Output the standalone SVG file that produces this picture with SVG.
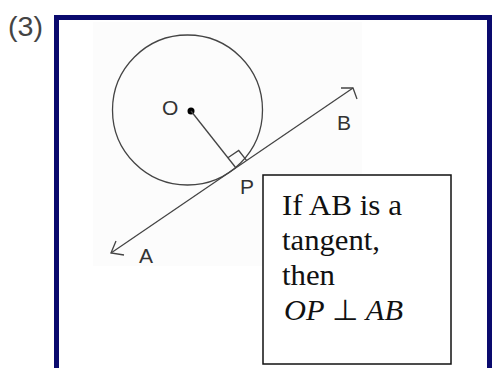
<svg xmlns="http://www.w3.org/2000/svg" width="493" height="368" viewBox="0 0 493 368">
<style>
.lbl{font-family:"Liberation Sans",Arial,sans-serif;font-size:21px;fill:#333}
.box{font-family:"Liberation Serif","Times New Roman",serif;font-size:29px;fill:#111}
.ln{stroke:#444;stroke-width:1.3;fill:none}
</style>
<rect x="0" y="0" width="493" height="368" fill="#fff"/>
<text x="8" y="36" font-family="Liberation Sans,Arial,sans-serif" font-size="27" fill="#444" textLength="35" lengthAdjust="spacingAndGlyphs">(3)</text>
<rect id="frame" x="56.5" y="17.5" width="433" height="400" fill="#fff" stroke="#0a0a6e" stroke-width="5"/>
<rect x="93" y="22" width="269" height="244" fill="#fcfcfc"/>
<g id="circle">
<circle cx="187.5" cy="110" r="75" class="ln"/>
<circle cx="191" cy="111" r="3.5" fill="#000"/>
<text x="162" y="115" class="lbl">O</text>
</g>
<g id="connectors">
<line x1="111" y1="253" x2="353" y2="88" class="ln"/>
<polyline points="341,88 353,88 357,99" class="ln"/>
<polyline points="124,255 111,253 116,241" class="ln"/>
<line x1="191" y1="111" x2="236" y2="168" class="ln"/>
<polyline points="227.9,157.8 238.7,150.5 246.7,160.7" class="ln"/>
</g>
<g id="labels">
<text x="337" y="130" class="lbl">B</text>
<text x="240" y="194" class="lbl">P</text>
<text x="139" y="263" class="lbl">A</text>
</g>
<g id="note">
<rect x="263" y="175" width="188" height="189" fill="#fff" stroke="#111" stroke-width="1.5"/>
<text x="282" y="215" class="box" textLength="120" lengthAdjust="spacingAndGlyphs">If AB is a</text>
<text x="282" y="250" class="box" textLength="98" lengthAdjust="spacingAndGlyphs">tangent,</text>
<text x="282" y="285" class="box" textLength="53" lengthAdjust="spacingAndGlyphs">then</text>
<text x="284" y="320" class="box" textLength="119" lengthAdjust="spacingAndGlyphs"><tspan font-style="italic">OP</tspan> ⊥ <tspan font-style="italic">AB</tspan></text>
</g>
</svg>
